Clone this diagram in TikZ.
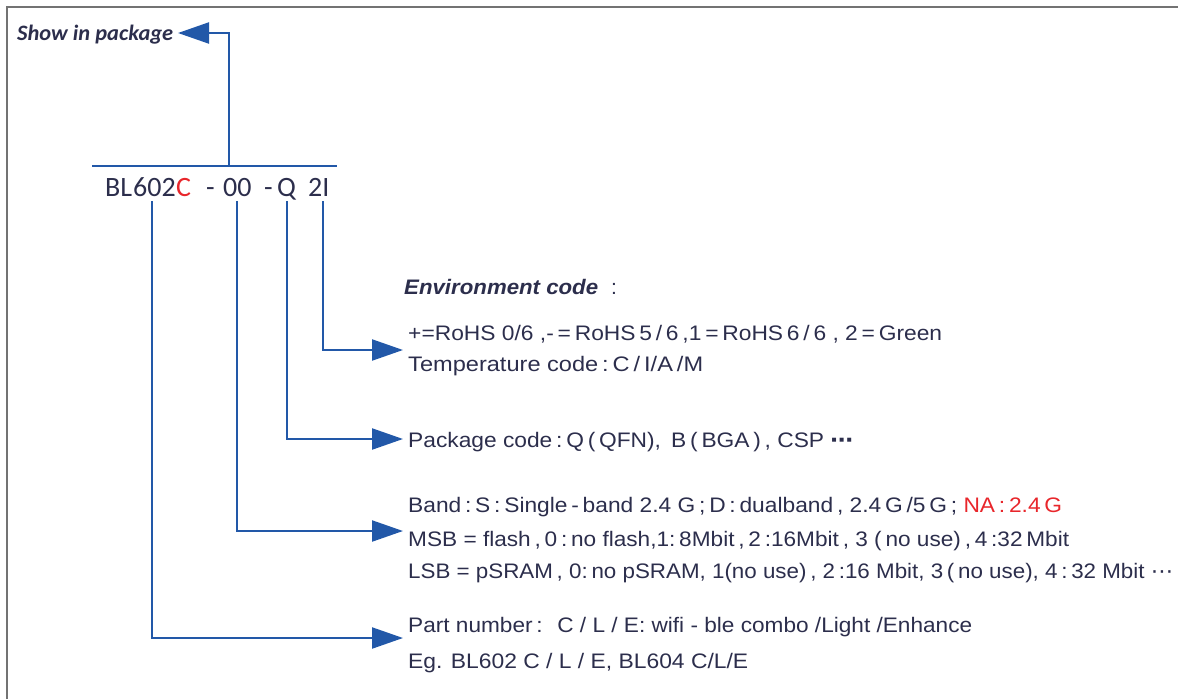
\documentclass[tikz,border=0pt]{standalone}
\usepackage{fontspec}
\usepackage{graphicx}
\setmainfont{Liberation Sans}
\newfontfamily\carlito{Carlito}
\newfontfamily\dejavu{DejaVu Sans}
\usetikzlibrary{arrows.meta}
\definecolor{lblue}{HTML}{2258A8}
\definecolor{navy}{HTML}{2C2E4C}
\definecolor{myred}{HTML}{E8262B}
\definecolor{framegray}{HTML}{737373}
\newcommand{\fitw}[2]{\resizebox{#1}{\height}{#2}}
\begin{document}
\begin{tikzpicture}[x=1pt,y=-1pt,
  txt/.style={anchor=base west, inner sep=0pt, text=navy, font=\fontsize{21}{25}\selectfont},
  ttl/.style={anchor=base west, inner sep=0pt, text=navy, font=\carlito\fontsize{28}{32}\selectfont},
  conn/.style={draw=lblue, line width=2.2pt},
  arr/.style={conn, -{Triangle[length=31pt,width=21pt,fill=lblue]}}]
\useasboundingbox (0,0) rectangle (1178,699);
% frame
\draw[framegray, line width=2pt] (7,699) -- (7,7) -- (1178,7);

% title
\node[txt, font=\carlito\bfseries\itshape\fontsize{22}{26}\selectfont] (show) at (17,40) {\fitw{156pt}{Show in package}};
\node[ttl] (tBL) at (105,196) {BL};
\node[ttl] (t602) at (133,196) {602};
\node[ttl, text=myred] (tC) at (176,196) {C};
\node[ttl] (td1) at (206,196) {-};
\node[ttl] (t00) at (223,196) {00};
\node[ttl] (td2) at (264,196) {-};
\node[ttl] (tQ) at (277,196) {Q};
\node[ttl] (t2I) at (308,196) {2I};

\coordinate (hl) at (92,166);
\coordinate (hr) at (337,166);
\coordinate (up) at (229,166);
\coordinate (showtip) at (178,33);
\draw[conn] (hl) -- (hr);
\draw[arr] (up) |- (showtip);

% descriptions
\node[txt, font=\bfseries\itshape\fontsize{21}{25}\selectfont] (env) at (404,294) {\fitw{194pt}{Environment code}};
\node[txt] (envc) at (611,294) {:};
\node[txt] (l1) at (408,340) {\fitw{534pt}{+=RoHS 0/6 ,-\,=\,RoHS\,5\,/\,6\,,1\,=\,RoHS\,6\,/\,6 , 2\,=\,Green}};
\node[txt] (l2) at (408,371) {\fitw{295pt}{Temperature code\,:\,C\,/\,I/A\,/M}};
\node[txt] (l3) at (408,447) {\fitw{445pt}{Package code\,:\,Q\,(\,QFN), \,B\,(\,BGA\,)\,, CSP {\dejavu\bfseries\itshape ⋯}}};
\node[txt] (l4) at (408,512) {\fitw{654pt}{Band\,:\,S\,:\,Single\,-\,band 2.4 G\,;\,D\,:\,dualband\,, 2.4\,G\,/5\,G\,; \textcolor{myred}{NA\,:\,2.4\,G}}};
\node[txt] (l5) at (408,546) {\fitw{661pt}{MSB = flash\,,\,0\,:\,no flash,1:\,8Mbit\,,\,2\,:16Mbit\,, 3 (\,no use)\,,\,4\,:32\,Mbit}};
\node[txt] (l6) at (408,578) {\fitw{765pt}{LSB = pSRAM\,, 0:\,no pSRAM, 1(no use)\,, 2\,:16 Mbit, 3\,(\,no use), 4\,:\,32 Mbit {\dejavu ⋯}}};
\node[txt] (l7) at (408,632) {\fitw{564pt}{Part number\,: \ C / L / E: wifi - ble combo /Light /Enhance}};
\node[txt] (l8) at (408,668) {\fitw{340pt}{Eg. BL602 C / L / E, BL604 C/L/E}};

% connectors
\coordinate (s1) at (152,201);
\coordinate (s2) at (237,201);
\coordinate (s3) at (287,201);
\coordinate (s4) at (323,201);
\coordinate (tipenv) at (403,350);
\coordinate (tippkg) at (403,439);
\coordinate (tipmsb) at (403,531);
\coordinate (tippart) at (403,638);
\draw[arr] (s4) |- (tipenv);
\draw[arr] (s3) |- (tippkg);
\draw[arr] (s2) |- (tipmsb);
\draw[arr] (s1) |- (tippart);
\end{tikzpicture}
\end{document}
